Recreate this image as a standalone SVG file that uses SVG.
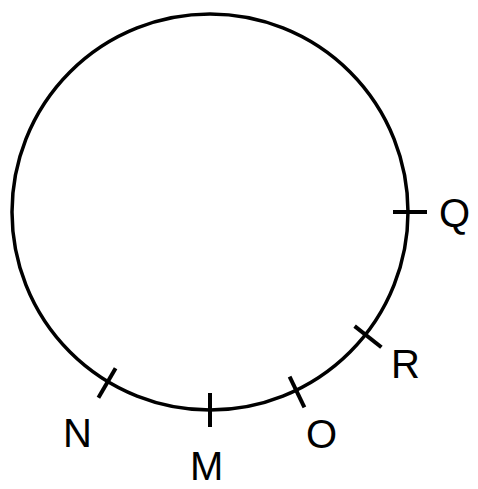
<svg xmlns="http://www.w3.org/2000/svg" width="478" height="489" viewBox="0 0 478 489">
<style>
.c{fill:none;stroke:#000;stroke-width:3.5}
.t{stroke:#000;stroke-width:4}
.l{font-family:"Liberation Sans",Arial,sans-serif;font-size:40px;fill:#000}
</style>
<rect width="478" height="489" fill="#fff"/>
<g id="connectors">
<circle class="c" cx="210" cy="212" r="198"/>
</g>
<g id="Q"><line class="t" x1="393" y1="212" x2="427" y2="212"/><text class="l" x="439" y="227">Q</text></g>
<g id="R"><line class="t" x1="354.6" y1="326.1" x2="381.4" y2="347.3"/><text class="l" x="391" y="378">R</text></g>
<g id="O"><line class="t" x1="289.6" y1="376.7" x2="304.4" y2="407.3"/><text class="l" x="306" y="448">O</text></g>
<g id="M"><line class="t" x1="210" y1="393" x2="210" y2="427"/><text class="l" x="190" y="480">M</text></g>
<g id="N"><line class="t" x1="115.6" y1="368.3" x2="98.4" y2="397.7"/><text class="l" x="63" y="447">N</text></g>
</svg>
